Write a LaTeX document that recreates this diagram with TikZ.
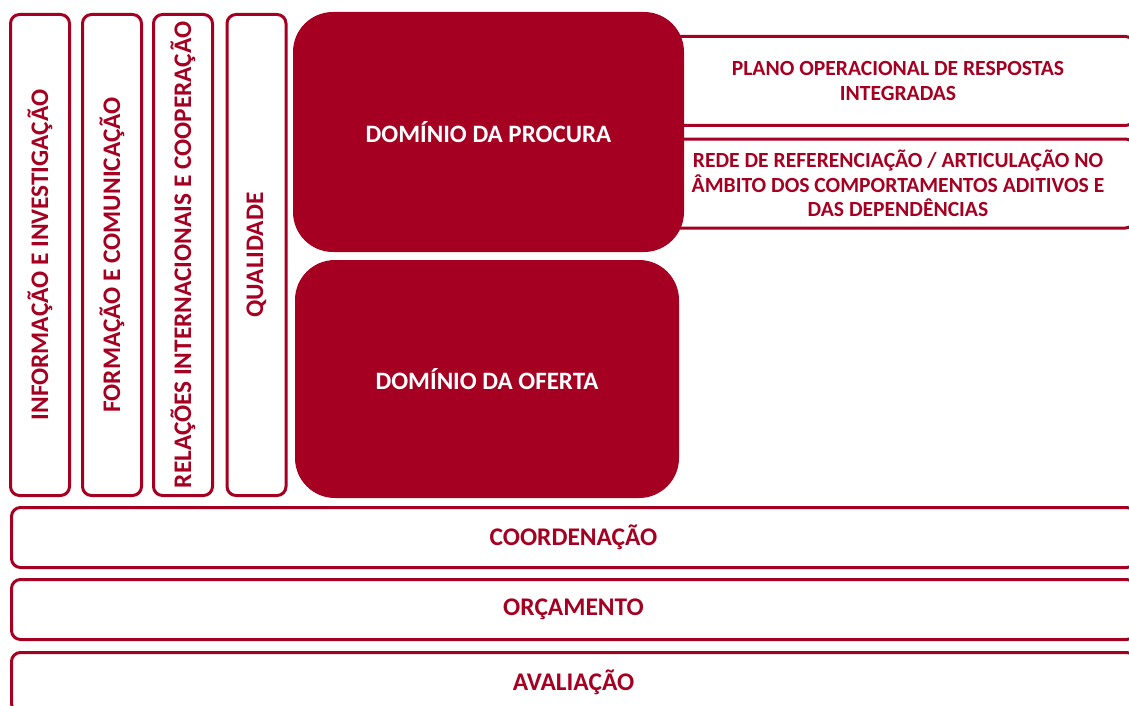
\documentclass[tikz,border=0pt]{standalone}
\usepackage{fontspec}
\setmainfont{Carlito}
\usepackage{tikz}
\definecolor{bordo}{HTML}{A50021}

\begin{document}
\begin{tikzpicture}[x=1pt,y=-1pt,
    pilar/.style={draw=bordo,line width=3pt,rounded corners=9pt,rotate=90,
      minimum width=481pt,minimum height=59pt,inner sep=0pt,text=bordo,
      font=\fontsize{25.3}{28}\selectfont\bfseries},
    dominio/.style={fill=bordo,rounded corners=40pt,text=white,inner sep=0pt,
      font=\fontsize{25}{28}\selectfont\bfseries},
    faixa/.style={draw=bordo,line width=3pt,rounded corners=9pt,text=bordo,
      minimum width=1124pt,minimum height=60pt,inner sep=0pt,
      font=\fontsize{25.4}{28}\selectfont\bfseries},
    plano/.style={draw=bordo,line width=3pt,rounded corners=9pt,text=bordo,
      minimum width=473pt,minimum height=89pt,inner sep=0pt,align=center,
      font=\fontsize{21.6}{24.5}\selectfont\bfseries}]
  \clip (0,0) rectangle (1129,706);

  % pilares verticais
  \node[pilar] (info) at (40,255) {INFORMAÇÃO E INVESTIGAÇÃO};
  \node[pilar] (form) at (112,255) {FORMAÇÃO E COMUNICAÇÃO};
  \node[pilar] (rel) at (183,255) {RELAÇÕES INTERNACIONAIS E COOPERAÇÃO};
  \node[pilar] (qual) at (256.5,255) {QUALIDADE};

  % caixas da direita (por baixo do dominio da procura)
  \node[plano] (resp) at (898,81) {PLANO OPERACIONAL DE RESPOSTAS\\INTEGRADAS};
  \node[plano] (rede) at (898,183.5) {REDE DE REFERENCIAÇÃO / ARTICULAÇÃO NO\\ÂMBITO DOS COMPORTAMENTOS ADITIVOS E\\DAS DEPENDÊNCIAS};

  % dominios
  \node[dominio,minimum width=391pt,minimum height=240pt] (procura) at (488.5,132) {DOMÍNIO DA PROCURA};
  \node[dominio,minimum width=384pt,minimum height=238pt] (oferta) at (487,379) {DOMÍNIO DA OFERTA};

  % faixas horizontais
  \node[faixa] (coord) at (573.5,537.5) {COORDENAÇÃO};
  \node[faixa] (orc) at (573.5,609.5) {ORÇAMENTO};
  \node[faixa] (aval) at (573.5,682.5) {AVALIAÇÃO};
\end{tikzpicture}
\end{document}
